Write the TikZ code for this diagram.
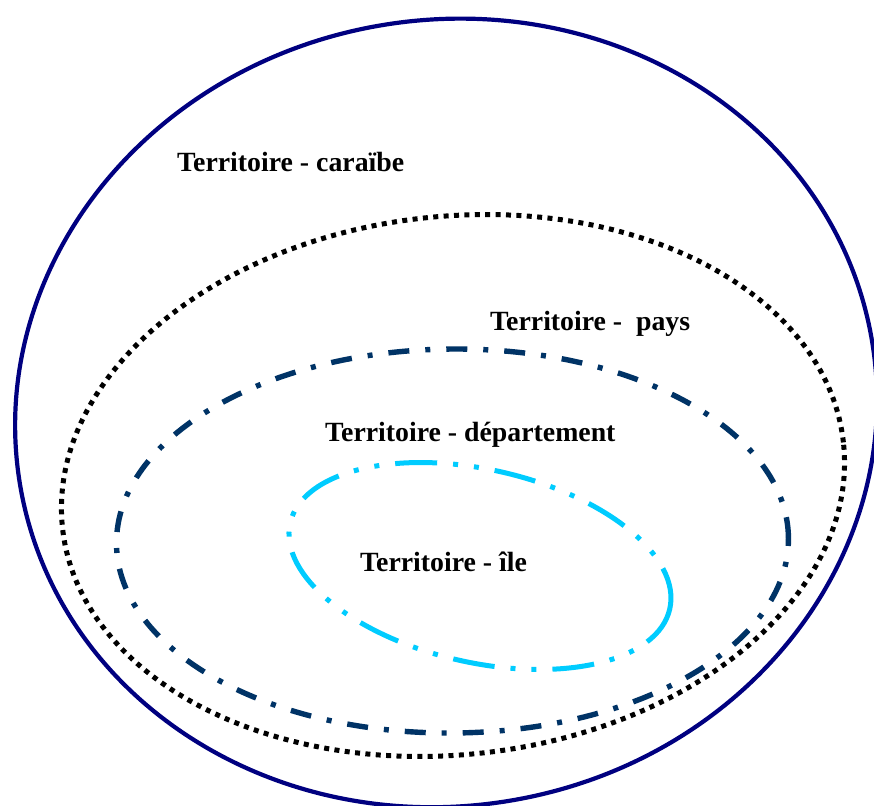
\documentclass[tikz,border=0pt]{standalone}
\usepackage{fontspec}
\setmainfont{Liberation Serif}
\definecolor{outernavy}{RGB}{0,0,128}
\definecolor{deptblue}{RGB}{0,51,102}
\definecolor{islecyan}{RGB}{0,204,255}
\begin{document}
\begin{tikzpicture}[x=1pt,y=1pt,
  outerline/.style={draw=outernavy,line width=4.2pt},
  paysline/.style={draw=black,line width=5pt,dash pattern=on 5pt off 5.4pt},
  deptline/.style={draw=deptblue,line width=5.4pt,dash pattern=on 21pt off 16pt on 5pt off 16pt},
  ileline/.style={draw=islecyan,line width=5pt,dash pattern=on 42pt off 16pt on 5pt off 16pt on 5pt off 16pt},
  lbl/.style={anchor=base west,inner sep=0pt,font=\fontsize{27.8}{33}\selectfont\bfseries,text=black}]
\useasboundingbox (0,0) rectangle (874,805);
% outer territory (caraibe)
\coordinate (cO) at (446,392);
\draw[outerline,rotate around={10:(cO)}] (cO) ellipse (432 and 393);
% pays (dotted)
\coordinate (cP) at (453,319.5);
\draw[paysline,rotate around={6.3:(cP)}] (cP) ellipse (392.8 and 269.1);
% departement (dash dot)
\coordinate (cD) at (452.5,264);
\draw[deptline,rotate around={0.5:(cD)}] (cD) ellipse (336 and 192);
% ile (dash dot dot)
\coordinate (cI) at (480,239);
\draw[ileline,rotate around={-12.75:(cI)}] (cI) ellipse (194.6 and 96.5);
% labels
\node[lbl] (tcar) at (177,633.3) {Territoire - caraïbe};
\node[lbl] (tpays) at (490,474) {Territoire -\ \ pays};
\node[lbl] (tdep) at (325,363.5) {Territoire - département};
\node[lbl] (tile) at (360,233.3) {Territoire - île};
\end{tikzpicture}
\end{document}
